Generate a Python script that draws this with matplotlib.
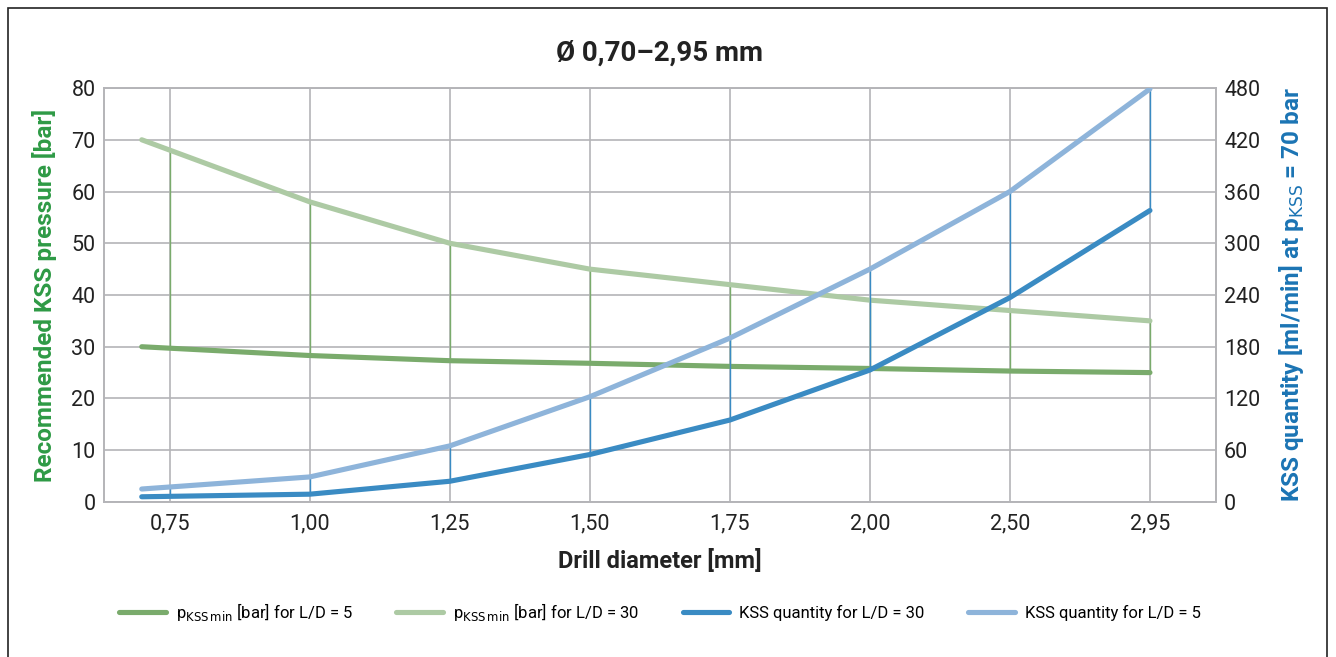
import numpy as np
import matplotlib
matplotlib.use("Agg")
import matplotlib.pyplot as plt
from matplotlib.patches import Rectangle

plt.rcParams['font.family'] = ['Roboto', 'DejaVu Sans']

# drill diameters (tick categories) and the diameters where the curves have points
kategorien = ["0,75", "1,00", "1,25", "1,50", "1,75", "2,00", "2,50", "2,95"]
kat_werte = [0.75, 1.00, 1.25, 1.50, 1.75, 2.00, 2.50, 2.95]
durchmesser = [0.70, 1.00, 1.25, 1.50, 1.75, 2.00, 2.50, 2.95]

# pressure [bar]
p_ld5 = [30.0, 28.3, 27.3, 26.8, 26.2, 25.8, 25.3, 25.0]
p_ld30 = [70.0, 58.0, 50.0, 45.0, 42.0, 39.0, 37.0, 35.0]
# quantity [ml/min]
q_ld30 = [6, 9, 24, 55, 95, 153, 237, 338]
q_ld5 = [15, 29, 65, 122, 190, 270, 360, 479]

GRUEN_D = "#7aab6c"
GRUEN_H = "#adcaa4"
BLAU_D = "#3a8bc3"
BLAU_H = "#8eb4da"
GRAU = "#b4b4b8"


def pos(d):
    # category axis: equal spacing between ticks, 0.70 sits left of 0.75
    if d < kat_werte[0]:
        return (d - kat_werte[0]) / (kat_werte[1] - kat_werte[0])
    return float(np.interp(d, kat_werte, np.arange(len(kat_werte))))


x = [pos(d) for d in durchmesser]
kx = np.arange(len(kategorien))

fig = plt.figure(figsize=(13.36, 6.57), dpi=100)
ax = fig.add_axes([0.0778, 0.236, 0.8322, 0.630])
ax2 = ax.twinx()

ax.plot(x, p_ld5, color=GRUEN_D, lw=3.7, solid_capstyle='round', label=r"p$_{\mathrm{KSS\,min}}$ [bar] for L/D = 5", zorder=3)
ax.plot(x, p_ld30, color=GRUEN_H, lw=3.7, solid_capstyle='round', label=r"p$_{\mathrm{KSS\,min}}$ [bar] for L/D = 30", zorder=3)
ax2.plot(x, q_ld30, color=BLAU_D, lw=3.7, solid_capstyle='round', label="KSS quantity for L/D = 30", zorder=3)
ax2.plot(x, q_ld5, color=BLAU_H, lw=3.7, solid_capstyle='round', label="KSS quantity for L/D = 5", zorder=3)

# thin drop lines between the pairs at each category
g_lo = np.interp(kx, x, p_ld5)
g_hi = np.interp(kx, x, p_ld30)
ax.vlines(kx, g_lo, g_hi, color=GRUEN_D, lw=1.0, zorder=2)
b_lo = np.interp(kx, x, q_ld30)
b_hi = np.interp(kx, x, q_ld5)
ax2.vlines(kx, b_lo, b_hi, color=BLAU_D, lw=1.0, zorder=2)

ax.set_xlim(-0.47, 7.47)
ax.set_ylim(0, 80)
ax2.set_ylim(0, 480)
ax.set_yticks(range(0, 81, 10))
ax2.set_yticks(range(0, 481, 60))
ax.set_xticks(kx)
ax.set_xticklabels(kategorien)
ax.grid(True, color=GRAU, lw=1.2, zorder=0)
ax.set_axisbelow(True)
for a in (ax, ax2):
    for s in a.spines.values():
        s.set_color(GRAU)
        s.set_linewidth(1.2)
    a.tick_params(length=0, labelsize=15.5, colors="#222222", pad=6)
ax.tick_params(axis='x', pad=8)

ax.set_title("Ø 0,70–2,95 mm", fontsize=20, fontweight='bold', color="#222222", pad=20)
ax.set_xlabel("Drill diameter [mm]", fontsize=17, fontweight='bold', color="#222222", labelpad=11)
ax.set_ylabel("Recommended KSS pressure [bar]", fontsize=17.5, fontweight='bold', color="#2e9a45", labelpad=10)
ax2.set_ylabel(r"KSS quantity [ml/min] at p$_{\mathrm{KSS}}$ = 70 bar", fontsize=17.5, fontweight='bold', color="#1b74b4", labelpad=12)

h1, l1 = ax.get_legend_handles_labels()
h2, l2 = ax2.get_legend_handles_labels()
fig.legend(h1 + h2, l1 + l2, loc='center', bbox_to_anchor=(0.494, 0.069), ncol=4, frameon=False,
           fontsize=12, handlelength=2.8, columnspacing=2.6, handletextpad=0.6)

fig.patches.append(Rectangle((0.006, -0.01), 0.987, 0.998, transform=fig.transFigure,
                             fill=False, edgecolor="#222222", lw=1.2))

fig.savefig("out.png", dpi=100)
